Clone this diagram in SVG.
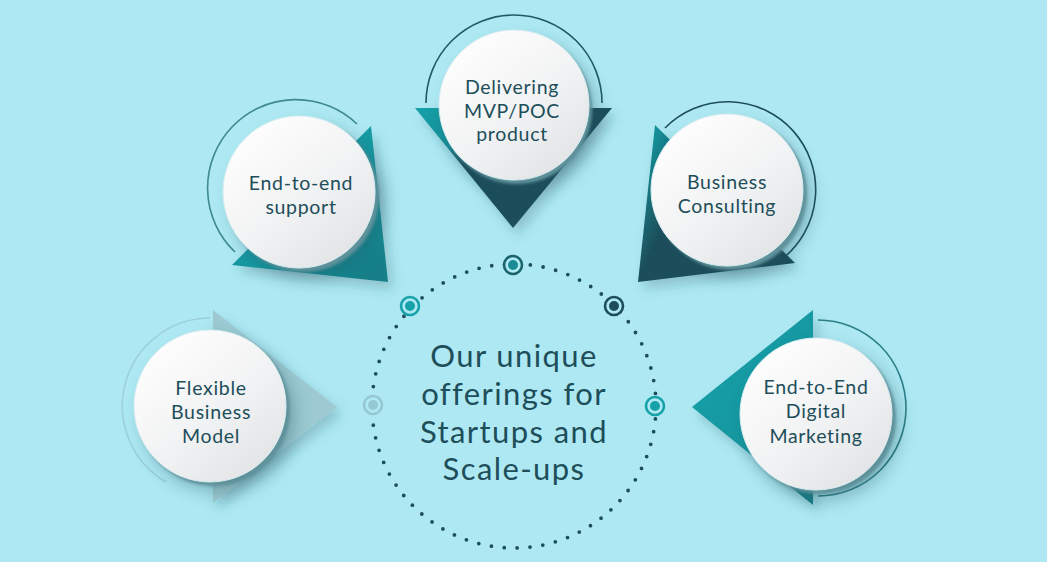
<svg xmlns="http://www.w3.org/2000/svg" width="1047" height="562" viewBox="0 0 1047 562">
<defs>
<style>
.lbl{font-family:Lato,"Liberation Sans",sans-serif;font-size:19.5px;letter-spacing:0.7px;fill:#1d4e5a;text-anchor:middle}
.big{font-family:Lato,"Liberation Sans",sans-serif;font-size:31px;letter-spacing:1.4px;fill:#1d4e5a;text-anchor:middle}
.arc{fill:none;stroke-width:1.6}
.disc{fill:url(#discG);stroke:#d9eef2;stroke-width:1}
.rim{fill:#5f929b}
</style>
<linearGradient id="discG" x1="0.2" y1="0.1" x2="0.85" y2="0.9">
<stop offset="0" stop-color="#fdfdfd"/>
<stop offset="0.55" stop-color="#f1f2f3"/>
<stop offset="1" stop-color="#e2e4e6"/>
</linearGradient>
<linearGradient id="t1G" x1="0" y1="0" x2="0.6" y2="0.6">
<stop offset="0" stop-color="#17a1a9"/>
<stop offset="0.4" stop-color="#178f98"/>
<stop offset="0.6" stop-color="#1d4e5a"/>
</linearGradient>
<linearGradient id="t2G" x1="0" y1="0" x2="0.8" y2="1">
<stop offset="0" stop-color="#17a1a9"/>
<stop offset="0.7" stop-color="#15969f"/>
<stop offset="1" stop-color="#167f88"/>
</linearGradient>
<linearGradient id="t3G" x1="0" y1="0.3" x2="0.6" y2="0.6">
<stop offset="0" stop-color="#168e97"/>
<stop offset="0.45" stop-color="#1d4e5a"/>
<stop offset="1" stop-color="#1d4e5a"/>
</linearGradient>
<filter id="soft" x="-40%" y="-40%" width="190%" height="190%">
<feGaussianBlur stdDeviation="9"/>
</filter>
<filter id="rimBlur" x="-20%" y="-20%" width="140%" height="140%">
<feGaussianBlur stdDeviation="1.6"/>
</filter>
<filter id="triSh" x="-30%" y="-30%" width="170%" height="170%">
<feDropShadow dx="5" dy="7" stdDeviation="6" flood-color="#1d4e5a" flood-opacity="0.25"/>
</filter>
</defs>
<rect width="1047" height="562" fill="#aee9f3"/>

<g id="hub">
<circle cx="514" cy="406" r="142" fill="none" stroke="#1d4e5a" stroke-width="3.8" stroke-linecap="round" stroke-dasharray="0 12.93"/>
<g stroke-width="2.6">
<circle cx="513" cy="265" r="9" fill="#aee9f3" stroke="#1a636d"/>
<circle cx="513" cy="265" r="5" fill="#1a8b94"/>
<circle cx="410" cy="306" r="9" fill="#aee9f3" stroke="#17a1a9"/>
<circle cx="410" cy="306" r="5" fill="#17a1a9"/>
<circle cx="614" cy="306" r="9" fill="#aee9f3" stroke="#1d4e5a"/>
<circle cx="614" cy="306" r="5" fill="#1d4e5a"/>
<circle cx="373" cy="405" r="9" fill="#aee9f3" stroke="#95c8d0"/>
<circle cx="373" cy="405" r="5" fill="#95c8d0"/>
<circle cx="655" cy="406" r="9" fill="#aee9f3" stroke="#17a1a9"/>
<circle cx="655" cy="406" r="5" fill="#17a1a9"/>
</g>
</g>

<g id="center">
<text class="big" x="514" y="367">Our unique</text>
<text class="big" x="514" y="405">offerings for</text>
<text class="big" x="514" y="443">Startups and</text>
<text class="big" x="514" y="480">Scale-ups</text>
</g>

<g id="node-mvp">
<path class="arc" stroke="#1d5b66" d="M 426 103 A 88 88 0 0 1 602 103"/>
<polygon points="415,108 612,108 513,228" fill="url(#t1G)" filter="url(#triSh)"/>
<circle cx="522" cy="115" r="75" fill="#1d4e5a" opacity="0.35" filter="url(#soft)"/>
<circle cx="517" cy="109" r="75" class="rim" filter="url(#rimBlur)"/>
<circle cx="514" cy="105" r="75" class="disc"/>
<text class="lbl" x="512" y="94">Delivering</text>
<text class="lbl" x="512" y="118">MVP/POC</text>
<text class="lbl" x="512" y="141">product</text>
</g>

<g id="node-support">
<path class="arc" stroke="#3f8992" d="M 357 124 A 88 88 0 0 0 235 252"/>
<polygon points="371,126 232,265 388,282" fill="url(#t2G)" filter="url(#triSh)"/>
<circle cx="308" cy="202" r="76" fill="#1d4e5a" opacity="0.35" filter="url(#soft)"/>
<circle cx="303" cy="196" r="76" class="rim" filter="url(#rimBlur)"/>
<circle cx="299" cy="192" r="76" class="disc"/>
<text class="lbl" x="301" y="190">End-to-end</text>
<text class="lbl" x="301" y="214">support</text>
</g>

<g id="node-consulting">
<path class="arc" stroke="#1d4e5a" d="M 665 128 A 88 88 0 1 1 782 259"/>
<polygon points="655,125 638,282 795,263" fill="url(#t3G)" filter="url(#triSh)"/>
<circle cx="735" cy="200" r="76" fill="#1d4e5a" opacity="0.35" filter="url(#soft)"/>
<circle cx="731" cy="194" r="76" class="rim" filter="url(#rimBlur)"/>
<circle cx="727" cy="190" r="76" class="disc"/>
<text class="lbl" x="727" y="189">Business</text>
<text class="lbl" x="727" y="213">Consulting</text>
</g>

<g id="node-flexible">
<path class="arc" stroke="#9dd0d8" d="M 210 318 A 88 88 0 0 0 166 482"/>
<polygon points="213,310 337,407 213,503" fill="#9dcad2" filter="url(#triSh)"/>
<circle cx="218" cy="416" r="76" fill="#1d4e5a" opacity="0.35" filter="url(#soft)"/>
<circle cx="214" cy="410" r="76" class="rim" filter="url(#rimBlur)"/>
<circle cx="210" cy="406" r="76" class="disc"/>
<text class="lbl" x="211" y="395">Flexible</text>
<text class="lbl" x="211" y="419">Business</text>
<text class="lbl" x="211" y="443">Model</text>
</g>

<g id="node-marketing">
<path class="arc" stroke="#2c7f88" d="M 818 320 A 88 88 0 0 1 818 496"/>
<polygon points="813,310 692,407 813,505" fill="url(#t2G)" filter="url(#triSh)"/>
<circle cx="824" cy="424" r="76" fill="#1d4e5a" opacity="0.35" filter="url(#soft)"/>
<circle cx="820" cy="418" r="76" class="rim" filter="url(#rimBlur)"/>
<circle cx="816" cy="414" r="76" class="disc"/>
<text class="lbl" x="816" y="394">End-to-End</text>
<text class="lbl" x="816" y="418">Digital</text>
<text class="lbl" x="816" y="443">Marketing</text>
</g>
</svg>
